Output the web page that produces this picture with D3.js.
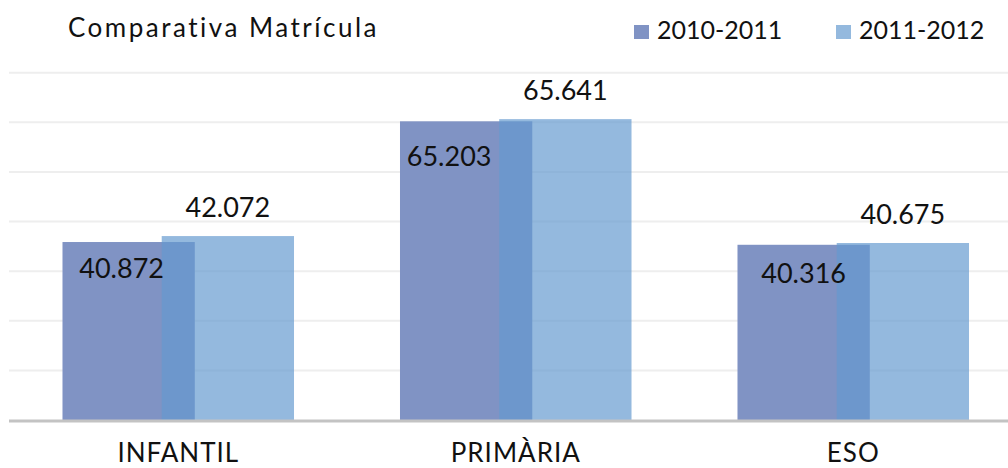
<!DOCTYPE html>
<html><head><meta charset="utf-8">
<script src="https://cdn.jsdelivr.net/npm/d3@7"></script>
<style>
html,body{margin:0;padding:0;background:#fff;}
svg{display:block;font-family:Lato,"Noto Sans",sans-serif;}
</style></head>
<body>
<svg id="c" width="1008" height="468"></svg>
<script>
const categories = ["INFANTIL", "PRIMÀRIA", "ESO"];
const seriesNames = ["2010-2011", "2011-2012"];
const values2010 = [40872, 65203, 40316];
const values2011 = [42072, 65641, 40675];
const valueLabels2010 = ["40.872", "65.203", "40.316"];
const valueLabels2011 = ["42.072", "65.641", "40.675"];
const yTicks = [15000, 25000, 35000, 45000, 55000, 65000, 75000];
const title = "Comparativa Matrícula";

// label fine-placement (pixels) as placed in the original
const lab2010dx = [-7, -17, 0];
const lab2010dy = [36, 45, 38];

const svg = d3.select("#c");
const W = 1008, H = 468;
const colors = ["#8093c4", "rgb(100,154,207)"];

const x = d3.scaleBand().domain(categories).range([9.5, 1022]).padding(0);
const y = d3.scaleLinear().domain([5000, 75000]).range([420, 72.7]);

const step = x.step();
const barW = step * 0.392;
const shift = step * 0.294;

// gridlines
svg.append("g").selectAll("line").data(yTicks).join("line")
  .attr("x1", 9).attr("x2", W)
  .attr("y1", d => y(d)).attr("y2", d => y(d))
  .attr("stroke", "#eeeeee").attr("stroke-width", 2);

const cx = c => x(c) + step / 2;

// series 1 bars
svg.append("g").selectAll("rect").data(categories).join("rect")
  .attr("x", (c) => cx(c) - shift / 2 - barW / 2)
  .attr("y", (c, i) => y(values2010[i]))
  .attr("width", barW)
  .attr("height", (c, i) => y(5000) - y(values2010[i]))
  .attr("fill", colors[0]);

// series 2 bars
svg.append("g").selectAll("rect").data(categories).join("rect")
  .attr("x", (c) => cx(c) + shift / 2 - barW / 2)
  .attr("y", (c, i) => y(values2011[i]))
  .attr("width", barW)
  .attr("height", (c, i) => y(5000) - y(values2011[i]))
  .attr("fill", colors[1]).attr("fill-opacity", 0.69);

// baseline
svg.append("line").attr("x1", 9).attr("x2", W)
  .attr("y1", y(5000) + 1).attr("y2", y(5000) + 1)
  .attr("stroke", "#c3c3c3").attr("stroke-width", 3);

// value labels
svg.append("g").selectAll("text").data(categories).join("text")
  .attr("x", (c, i) => cx(c) - shift / 2 + lab2010dx[i])
  .attr("y", (c, i) => y(values2010[i]) + lab2010dy[i])
  .attr("text-anchor", "middle").attr("font-size", 27).attr("fill", "#111")
  .text((c, i) => valueLabels2010[i]);

svg.append("g").selectAll("text").data(categories).join("text")
  .attr("x", (c) => cx(c) + shift / 2)
  .attr("y", (c, i) => y(values2011[i]) - 19)
  .attr("text-anchor", "middle").attr("font-size", 27).attr("fill", "#111")
  .text((c, i) => valueLabels2011[i]);

// category axis
const xAxis = d3.axisBottom(x).tickSize(0).tickPadding(0);
const gx = svg.append("g").attr("transform", `translate(0,${462})`).call(xAxis);
gx.select(".domain").remove();
gx.selectAll("text").attr("font-size", 26).attr("fill", "#111")
  .attr("dy", 0).attr("font-family", "Lato").attr("letter-spacing", 1);

// title
svg.append("text").attr("x", 68).attr("y", 37)
  .attr("font-size", 26).attr("fill", "#111").attr("letter-spacing", 2.5)
  .text(title);

// legend
const legX = [634, 836];
const lg = svg.append("g").selectAll("g").data(seriesNames).join("g")
  .attr("transform", (d, i) => `translate(${legX[i]},0)`);
lg.append("rect").attr("x", 0).attr("y", 25).attr("width", 15).attr("height", 14)
  .attr("fill", (d, i) => colors[i]).attr("fill-opacity", (d, i) => i ? 0.69 : 1);
lg.append("text").attr("x", 23).attr("y", 39).attr("font-size", 25).attr("fill", "#111")
  .text(d => d);
</script>
</body></html>
